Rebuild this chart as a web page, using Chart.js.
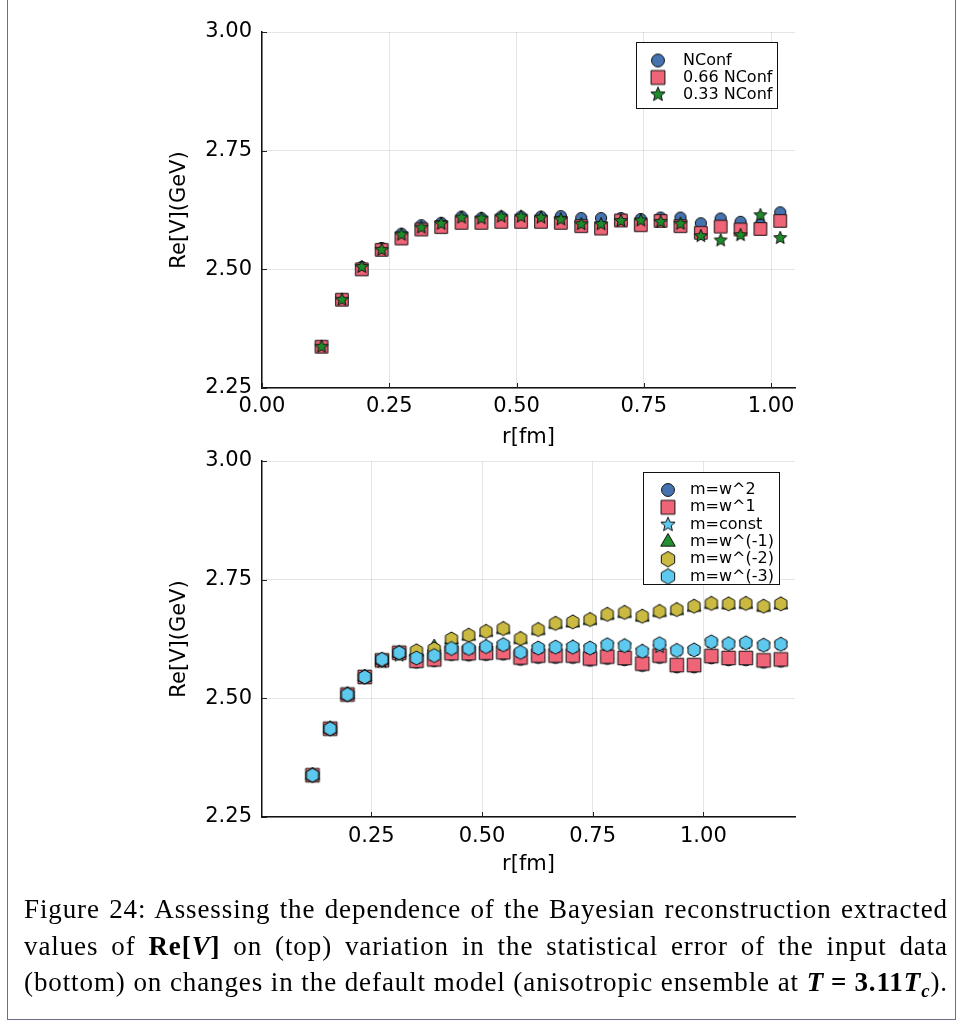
<!DOCTYPE html>
<html><head><meta charset="utf-8">
<script src="https://cdn.jsdelivr.net/npm/chart.js@4/dist/chart.umd.min.js"></script>
<style>
html,body{margin:0;padding:0;background:#fff;}
#page{position:relative;width:957px;height:1021px;overflow:hidden;background:#fff;}
#frame{position:absolute;left:7px;top:-2px;width:949px;height:1022px;border:1px solid #6e6e8c;box-sizing:border-box;}
canvas{position:absolute;left:0;}
#c1{top:0px;}
#c2{top:430px;}
#cap{position:absolute;left:24px;top:891px;width:924px;font-family:"Liberation Serif",serif;font-size:27px;letter-spacing:0.9px;line-height:36.5px;color:#000;}
#cap div{text-align:justify;text-align-last:justify;white-space:nowrap;}
</style></head>
<body>
<div id="page">
<div id="frame"></div>
<canvas id="c1" width="957" height="450"></canvas>
<canvas id="c2" width="957" height="460"></canvas>
<div id="cap">
<div>Figure 24: Assessing the dependence of the Bayesian reconstruction extracted</div>
<div>values of <b>Re[<i>V</i>]</b> on (top) variation in the statistical error of the input data</div>
<div>(bottom) on changes in the default model (anisotropic ensemble at <b><i>T</i><span style="margin:0 7px">=</span>3.11<i>T<sub style="font-size:0.7em">c</sub></i></b>).</div>
</div>
</div>
<script>
// ---------- data: top panel ----------
const topR = [0.117,0.157,0.196,0.235,0.274,0.313,0.352,0.392,0.431,0.470,0.509,0.548,0.587,0.627,0.666,0.705,0.744,0.783,0.822,0.862,0.901,0.940,0.979,1.018];
const nconf    = [2.337,2.436,2.505,2.545,2.575,2.593,2.598,2.611,2.608,2.611,2.611,2.611,2.612,2.608,2.608,2.608,2.606,2.609,2.609,2.597,2.607,2.600,2.594,2.620];
const nconf066 = [2.337,2.436,2.500,2.541,2.565,2.584,2.589,2.598,2.598,2.600,2.600,2.600,2.598,2.591,2.586,2.603,2.593,2.602,2.591,2.577,2.590,2.584,2.585,2.602];
const nconf033 = [2.337,2.436,2.505,2.541,2.573,2.588,2.596,2.609,2.607,2.611,2.611,2.609,2.605,2.595,2.595,2.602,2.603,2.600,2.596,2.570,2.561,2.572,2.614,2.566];
const topLabels = ["NConf","0.66 NConf","0.33 NConf"];

// ---------- data: bottom panel ----------
const botR = [0.117,0.157,0.196,0.235,0.274,0.313,0.352,0.392,0.431,0.470,0.509,0.548,0.587,0.627,0.666,0.705,0.744,0.783,0.822,0.862,0.901,0.940,0.979,1.018,1.057,1.096,1.136,1.175];
const mW2   = [2.338,2.436,2.507,2.544,2.579,2.595,2.576,2.579,2.592,2.591,2.592,2.593,2.582,2.586,2.586,2.586,2.580,2.584,2.581,2.569,2.586,2.566,2.566,2.585,2.581,2.581,2.576,2.578];
const mW1   = [2.338,2.436,2.508,2.545,2.580,2.596,2.579,2.582,2.595,2.595,2.596,2.597,2.586,2.590,2.590,2.590,2.584,2.588,2.585,2.573,2.590,2.570,2.570,2.589,2.585,2.585,2.580,2.582];
const mConst= [2.338,2.436,2.508,2.545,2.577,2.590,2.586,2.591,2.606,2.605,2.610,2.613,2.598,2.606,2.608,2.609,2.606,2.612,2.611,2.600,2.608,2.601,2.602,2.618,2.615,2.616,2.612,2.614];
const mWm1  = [2.338,2.436,2.508,2.545,2.580,2.595,2.598,2.608,2.623,2.631,2.639,2.645,2.624,2.643,2.656,2.659,2.664,2.675,2.679,2.671,2.681,2.685,2.692,2.698,2.697,2.698,2.692,2.697];
const mWm2  = [2.338,2.436,2.508,2.545,2.581,2.596,2.600,2.604,2.625,2.633,2.641,2.647,2.626,2.645,2.658,2.661,2.666,2.677,2.681,2.673,2.683,2.687,2.694,2.700,2.699,2.700,2.694,2.699];
const mWm3  = [2.338,2.436,2.508,2.545,2.582,2.596,2.585,2.590,2.605,2.605,2.609,2.613,2.597,2.606,2.608,2.608,2.606,2.613,2.611,2.599,2.615,2.601,2.602,2.619,2.615,2.617,2.612,2.614];
const botLabels = ["m=w^2","m=w^1","m=const","m=w^(-1)","m=w^(-2)","m=w^(-3)"];

// ---------- ticks ----------
const topXTicks = [0, 0.25, 0.5, 0.75, 1.0];
const topXTickLabels = ["0.00","0.25","0.50","0.75","1.00"];
const botXTicks = [0.25, 0.5, 0.75, 1.0];
const botXTickLabels = ["0.25","0.50","0.75","1.00"];
const yTicks = [2.25, 2.5, 2.75, 3.0];
const yTickLabels = ["2.25","2.50","2.75","3.00"];

// ---------- marker images ----------
function marker(shape, fill, s){
  const c = document.createElement('canvas'); c.width = 32; c.height = 32;
  const g = c.getContext('2d'); g.translate(16,16);
  g.beginPath();
  if(shape==='circle'){ g.arc(0,0,5.6*s,0,Math.PI*2); }
  else if(shape==='rect'){ const h=6.3*s; g.rect(-h,-h,2*h,2*h); }
  else if(shape==='star'){ const R=6.8*s, r=R*0.45; for(let k=0;k<10;k++){const a=-Math.PI/2+k*Math.PI/5; const rr=(k%2)?r:R; g.lineTo(rr*Math.cos(a), rr*Math.sin(a));} g.closePath(); }
  else if(shape==='hex'){ const R=7*s; for(let k=0;k<6;k++){const a=-Math.PI/2+k*Math.PI/3; g.lineTo(R*Math.cos(a),R*Math.sin(a));} g.closePath(); }
  else if(shape==='tri'){ const R=8*s; for(let k=0;k<3;k++){const a=-Math.PI/2+k*2*Math.PI/3; g.lineTo(R*Math.cos(a),R*Math.sin(a));} g.closePath(); }
  g.fillStyle=fill; g.fill(); g.lineWidth=1; g.strokeStyle='#111'; g.stroke();
  return c;
}

const C_BLUE='#4473B0', C_RED='#F06478', C_GREEN='#1E8B2A', C_CYAN='#5FC8EE', C_OLIVE='#CBBA41', C_LBLUE='#5EC9EE', C_TRI='#23902F';

function ds(label, xs, ys, shape, fill, s, ls, order){
  return {label, data: xs.map((x,i)=>({x, y: ys[i]})), pointStyle: marker(shape, fill, s),
    legendImg: marker(shape, fill, ls), pointRadius: 6, showLine:false, order, clip:false};
}

const overlay = {
  id:'overlay',
  afterDraw(chart, args, opts){
    const ctx = chart.ctx, ca = chart.chartArea;
    const xs = chart.scales.x, ys = chart.scales.y;
    ctx.save();
    ctx.strokeStyle='#222'; ctx.lineWidth=1;
    xs.ticks.forEach(t=>{const p=Math.round(xs.getPixelForValue(t.value))+0.5; ctx.beginPath(); ctx.moveTo(p, ca.bottom); ctx.lineTo(p, ca.bottom-5); ctx.stroke();});
    ys.ticks.forEach(t=>{const p=Math.round(ys.getPixelForValue(t.value))+0.5; ctx.beginPath(); ctx.moveTo(ca.left, p); ctx.lineTo(ca.left+5, p); ctx.stroke();});
    const b = opts.box;
    ctx.fillStyle='#fff'; ctx.fillRect(b[0], b[1], b[2]-b[0], b[3]-b[1]);
    ctx.strokeStyle='#111'; ctx.strokeRect(b[0]+0.5, b[1]+0.5, b[2]-b[0], b[3]-b[1]);
    ctx.font = '16px "DejaVu Sans"'; ctx.textBaseline='middle'; ctx.fillStyle='#000';
    chart.data.datasets.forEach((d,i)=>{
      const y = opts.y0 + i*opts.dy; const img = d.legendImg;
      ctx.drawImage(img, opts.mx - img.width/2, y - img.height/2);
      ctx.fillStyle='#000'; ctx.fillText(d.label, opts.tx, y);
    });
    ctx.restore();
  }
};

const FONT = {family:'"DejaVu Sans"', size:21};
function scaleCfg(min, max, ticks, labels, title, isX, axisSize, tickPad, titlePad){
  return {
    type:'linear', min, max,
    afterBuildTicks: s=>{ s.ticks = ticks.map(v=>({value:v})); },
    afterFit: s=>{ if(isX) s.height = axisSize; else s.width = axisSize; },
    ticks:{ callback:(v,i)=>labels[i], font:FONT, color:'#000', padding:tickPad, maxRotation:0, autoSkip:false },
    grid:{ color:'rgba(0,0,0,0.1)', drawTicks:false, lineWidth:1 },
    border:{ display:true, color:'#111', width:1.5 },
    title:{ display:true, text:title, font:FONT, color:'#000', padding: titlePad }
  };
}

new Chart(document.getElementById('c1'), {
  type:'scatter',
  data:{ datasets:[
    ds(topLabels[0], topR, nconf, 'circle', C_BLUE, 1, 1.15, 3),
    ds(topLabels[1], topR, nconf066, 'rect', C_RED, 1, 1.1, 2),
    ds(topLabels[2], topR, nconf033, 'star', C_GREEN, 1, 1.1, 1)
  ]},
  options:{
    responsive:false, animation:false, devicePixelRatio:1, events:[],
    layout:{ padding:{ left:162, right:162, top:32, bottom:0 } },
    plugins:{ legend:{display:false}, tooltip:{enabled:false},
      overlay:{ box:[636,42,777,108], mx:658, tx:683, y0:60.5, dy:17 } },
    scales:{
      x: scaleCfg(0, 1.047, topXTicks, topXTickLabels, 'r[fm]', true, 62, 6, {top:0,bottom:0}),
      y: scaleCfg(2.25, 3.0, yTicks, yTickLabels, 'Re[V](GeV)', false, 100, 10, {top:5,bottom:0})
    }
  },
  plugins:[overlay]
});

new Chart(document.getElementById('c2'), {
  type:'scatter',
  data:{ datasets:[
    ds(botLabels[0], botR, mW2, 'circle', C_BLUE, 1.05, 1.15, 6),
    ds(botLabels[1], botR, mW1, 'rect', C_RED, 1.08, 1.1, 5),
    ds(botLabels[2], botR, mConst, 'star', C_CYAN, 1.0, 1.1, 4),
    ds(botLabels[3], botR, mWm1, 'tri', C_TRI, 1.0, 1.05, 3),
    ds(botLabels[4], botR, mWm2, 'hex', C_OLIVE, 1.0, 1.1, 2),
    ds(botLabels[5], botR, mWm3, 'hex', C_LBLUE, 1.0, 1.1, 1)
  ]},
  options:{
    responsive:false, animation:false, devicePixelRatio:1, events:[],
    layout:{ padding:{ left:162, right:162, top:31, bottom:13 } },
    plugins:{ legend:{display:false}, tooltip:{enabled:false},
      overlay:{ box:[643,42,779,154], mx:668, tx:690, y0:60, dy:17.3 } },
    scales:{
      x: scaleCfg(0.003, 1.207, botXTicks, botXTickLabels, 'r[fm]', true, 60, 7, {top:0,bottom:0}),
      y: scaleCfg(2.25, 3.0, yTicks, yTickLabels, 'Re[V](GeV)', false, 100, 10, {top:5,bottom:0})
    }
  },
  plugins:[overlay]
});
</script>
</body></html>
